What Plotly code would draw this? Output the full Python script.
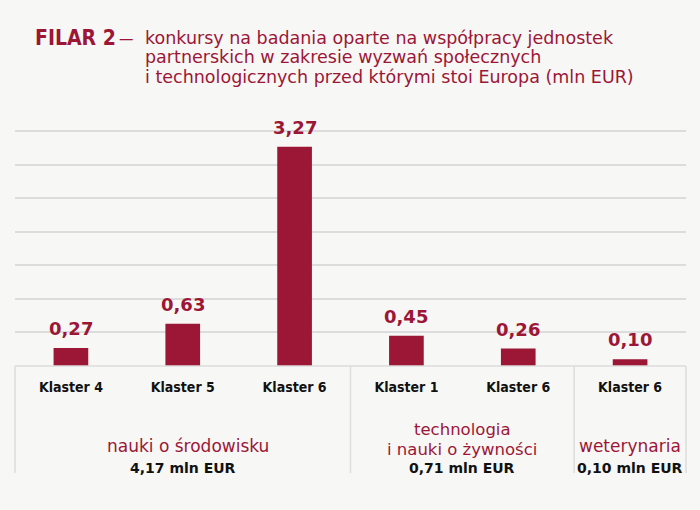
import plotly.graph_objects as go

categories = ["Klaster 4", "Klaster 5", "Klaster 6", "Klaster 1", "Klaster 6", "Klaster 6"]
values = [0.27, 0.63, 3.27, 0.45, 0.26, 0.10]
value_labels = ["0,27", "0,63", "3,27", "0,45", "0,26", "0,10"]
groups = [["nauki o środowisku"], ["technologia", "i nauki o żywności"], ["weterynaria"]]
group_totals = ["4,17 mln EUR", "0,71 mln EUR", "0,10 mln EUR"]
group_spans = [(0, 2), (3, 4), (5, 5)]
title_lines = ["konkursy na badania oparte na współpracy jednostek",
               "partnerskich w zakresie wyzwań społecznych",
               "i technologicznych przed którymi stoi Europa (mln EUR)"]

RED = "#9c1636"
BG = "#f7f7f5"
GRID = "#dcdcdc"
FONT = "DejaVu Sans Condensed"
FONT_W = "DejaVu Sans"

x = list(range(len(categories)))

fig = go.Figure()
fig.add_trace(go.Bar(
    x=x, y=values, marker=dict(color=RED, line=dict(width=0)),
    width=0.31, hoverinfo="skip",
))

H_TOP = 128
H_BOT = 144
plot_h = 510 - H_TOP - H_BOT
def py(pix):
    return (510 - H_BOT - pix) / plot_h
def pxp(pix):
    return (pix - 15) / 671

annotations = []
for xi, v, lab in zip(x, values, value_labels):
    annotations.append(dict(text="<b>" + lab + "</b>", x=xi, y=v, xref="x", yref="y",
                            xanchor="center", yanchor="bottom", yshift=7, showarrow=False,
                            font=dict(family=FONT_W, size=18, color=RED)))

annotations.append(dict(text="<b>FILAR 2</b>", xref="paper", yref="paper",
                        x=pxp(33), y=py(38), xanchor="left", yanchor="middle",
                        showarrow=False, font=dict(family=FONT, size=21, color=RED)))
annotations.append(dict(text="—", xref="paper", yref="paper",
                        x=pxp(117), y=py(38), xanchor="left", yanchor="middle",
                        showarrow=False, font=dict(family=FONT, size=16, color=RED)))
for i, line in enumerate(title_lines):
    annotations.append(dict(text=line, xref="paper", yref="paper",
                            x=pxp(143), y=py(38 + 19.5 * i), xanchor="left", yanchor="middle",
                            showarrow=False, font=dict(family=FONT_W, size=17.5, color=RED)))

n = len(categories)
for gi, (g, tot, (a, b)) in enumerate(zip(groups, group_totals, group_spans)):
    cx = ((a + b) / 2 + 0.5) / n
    if len(g) == 2:
        ys = [429.5, 449.5]
        fs = 16.5
    else:
        ys = [446]
        fs = 17
    for line, yy in zip(g, ys):
        annotations.append(dict(text=line, xref="paper", yref="paper", x=cx, y=py(yy),
                                xanchor="center", yanchor="middle", showarrow=False,
                                xshift=5 if gi == 0 else 0,
                                font=dict(family=FONT_W, size=fs, color=RED)))
    annotations.append(dict(text="<b>" + tot + "</b>", xref="paper", yref="paper", x=cx, y=py(468),
                            xanchor="center", yanchor="middle", showarrow=False,
                            font=dict(family=FONT_W, size=14, color="#111111")))

shapes = []
for bnd in [-0.5, 2.5, 4.5, 5.5]:
    p = (bnd + 0.5) / n
    shapes.append(dict(type="line", xref="paper", yref="paper", x0=p, x1=p,
                       y0=0, y1=py(473), line=dict(color=GRID, width=1.5)))
shapes.append(dict(type="line", xref="paper", yref="paper", x0=0, x1=1, y0=0, y1=0,
                   line=dict(color=GRID, width=1.5)))

fig.update_layout(
    width=700, height=510,
    margin=dict(l=15, r=14, t=H_TOP, b=H_BOT),
    paper_bgcolor=BG, plot_bgcolor=BG,
    showlegend=False,
    font=dict(family=FONT),
    annotations=annotations,
    shapes=shapes,
    xaxis=dict(
        tickvals=x, ticktext=["<b>" + c + "</b>" for c in categories],
        range=[-0.5, 5.5], showgrid=False, zeroline=False, showline=False,
        ticks="outside", ticklen=8, tickcolor=BG,
        tickfont=dict(family=FONT, size=14, color="#111111"),
        fixedrange=True,
    ),
    yaxis=dict(
        range=[0, 3.55], dtick=0.5, showticklabels=False,
        showgrid=True, gridcolor=GRID, gridwidth=1.5,
        zeroline=False, showline=False, fixedrange=True,
    ),
)

fig.write_html("out.html", post_script="document.body.style.margin='0';",
               config={"displayModeBar": False})
